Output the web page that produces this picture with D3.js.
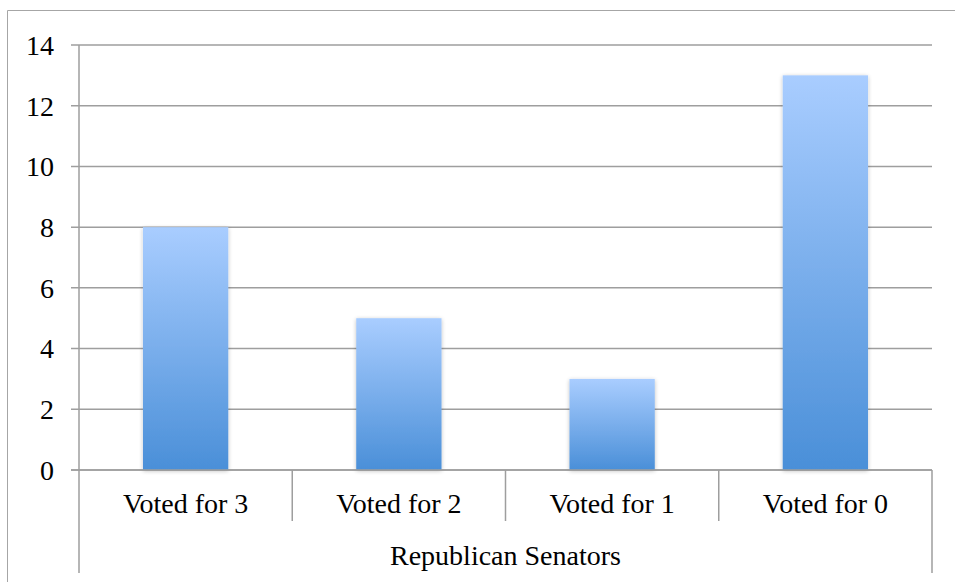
<!DOCTYPE html>
<html lang="en">
<head>
    <meta charset="UTF-8">
    <title>Republican Senators</title>
    <script src="https://cdn.jsdelivr.net/npm/d3@7/dist/d3.min.js"></script>
    <style>
        body { margin: 0; background: #fff; }
        text { font-family: "Liberation Serif", "DejaVu Serif", serif; fill: #000; }
    </style>
</head>
<body>
<script>
    // data
    var categories = ["Voted for 3", "Voted for 2", "Voted for 1", "Voted for 0"];
    var values = [8, 5, 3, 13];
    var yTicks = [0, 2, 4, 6, 8, 10, 12, 14];
    var groupLabel = "Republican Senators";

    var width = 955, height = 582;
    var plotLeft = 79, plotRight = 932, plotTop = 45, plotBottom = 470;
    var fontSize = "28px";

    var svg = d3.select("body").append("svg")
        .attr("width", width)
        .attr("height", height);

    // bar gradient + soft shadow
    var defs = svg.append("defs");
    var grad = defs.append("linearGradient")
        .attr("id", "barFill")
        .attr("x1", 0).attr("y1", 0).attr("x2", 0).attr("y2", 1);
    grad.append("stop").attr("offset", "0%").attr("stop-color", "#a9cdff");
    grad.append("stop").attr("offset", "100%").attr("stop-color", "#4a8fd8");

    var shadow = defs.append("filter").attr("id", "shadow")
        .attr("x", "-10%").attr("y", "-10%").attr("width", "120%").attr("height", "120%");
    shadow.append("feGaussianBlur").attr("in", "SourceAlpha").attr("stdDeviation", 2);
    shadow.append("feOffset").attr("dx", 0).attr("dy", 1).attr("result", "b");
    shadow.append("feComponentTransfer").append("feFuncA").attr("type", "linear").attr("slope", 0.25);
    var merge = shadow.append("feMerge");
    merge.append("feMergeNode");
    merge.append("feMergeNode").attr("in", "SourceGraphic");

    // outer frame (left and top edges visible)
    svg.append("path")
        .attr("d", "M7.5," + height + "V10.5H" + width)
        .attr("fill", "none")
        .attr("stroke", "#a6a6a6")
        .attr("stroke-width", 1);

    var x = d3.scaleBand()
        .domain(categories)
        .range([plotLeft, plotRight])
        .paddingInner(0.6)
        .paddingOuter(0.3);

    var xBand = d3.scaleBand()
        .domain(categories)
        .range([plotLeft, plotRight]);

    var y = d3.scaleLinear()
        .domain([0, 14])
        .range([plotBottom, plotTop]);

    // gridlines
    svg.append("g")
        .selectAll("line")
        .data(yTicks)
        .enter()
        .append("line")
        .attr("x1", plotLeft - 8)
        .attr("x2", plotRight)
        .attr("y1", function (d) { return y(d); })
        .attr("y2", function (d) { return y(d); })
        .attr("stroke", "#9e9e9e")
        .attr("stroke-width", 1.5);

    // y tick labels
    svg.append("g")
        .selectAll("text")
        .data(yTicks)
        .enter()
        .append("text")
        .attr("x", 54)
        .attr("y", function (d) { return y(d); })
        .attr("dy", "0.35em")
        .attr("text-anchor", "end")
        .style("font-size", fontSize)
        .text(function (d) { return d; });

    // bars
    svg.append("g")
        .selectAll("rect")
        .data(values)
        .enter()
        .append("rect")
        .attr("x", function (d, i) { return x(categories[i]); })
        .attr("width", x.bandwidth())
        .attr("y", function (d) { return y(d); })
        .attr("height", function (d) { return y(0) - y(d); })
        .attr("fill", "url(#barFill)")
        .attr("filter", "url(#shadow)");

    // y axis line, baseline and right edge of category axis
    svg.append("line")
        .attr("x1", plotLeft).attr("x2", plotLeft)
        .attr("y1", plotTop).attr("y2", 573)
        .attr("stroke", "#9e9e9e").attr("stroke-width", 1.5);
    svg.append("line")
        .attr("x1", plotLeft - 8).attr("x2", plotRight)
        .attr("y1", plotBottom).attr("y2", plotBottom)
        .attr("stroke", "#9e9e9e").attr("stroke-width", 1.5);
    svg.append("line")
        .attr("x1", plotRight).attr("x2", plotRight)
        .attr("y1", plotBottom).attr("y2", 573)
        .attr("stroke", "#9e9e9e").attr("stroke-width", 1.5);

    // category separators
    svg.append("g")
        .selectAll("line")
        .data(categories.slice(1))
        .enter()
        .append("line")
        .attr("x1", function (d) { return xBand(d); })
        .attr("x2", function (d) { return xBand(d); })
        .attr("y1", plotBottom)
        .attr("y2", 521)
        .attr("stroke", "#9e9e9e")
        .attr("stroke-width", 1.5);

    // category labels
    svg.append("g")
        .selectAll("text")
        .data(categories)
        .enter()
        .append("text")
        .attr("x", function (d) { return xBand(d) + xBand.bandwidth() / 2; })
        .attr("y", 513)
        .attr("text-anchor", "middle")
        .style("font-size", fontSize)
        .text(function (d) { return d; });

    // group label
    svg.append("text")
        .attr("x", (plotLeft + plotRight) / 2)
        .attr("y", 565)
        .attr("text-anchor", "middle")
        .style("font-size", fontSize)
        .text(groupLabel);
</script>
</body>
</html>
